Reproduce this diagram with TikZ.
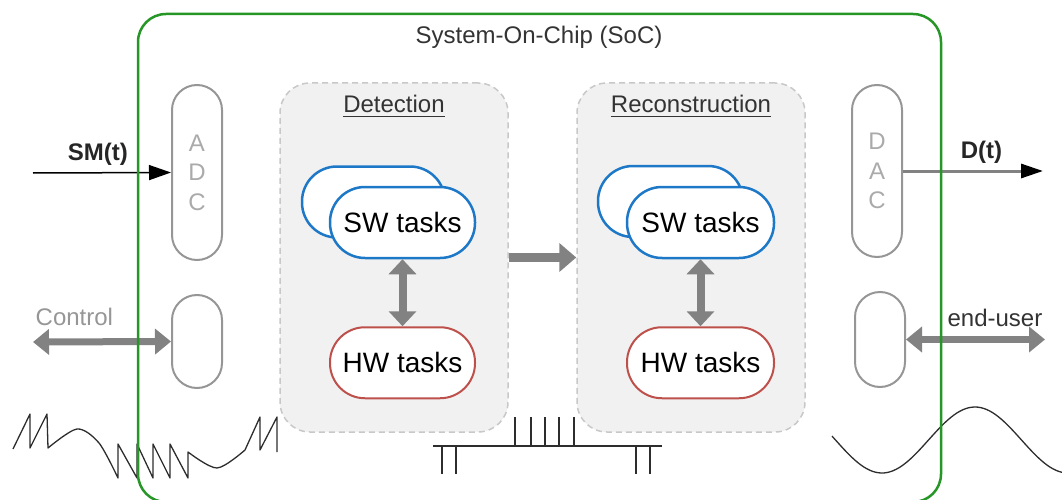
\documentclass[tikz,border=0pt]{standalone}
\usepackage{fontspec}
\setmainfont{Liberation Sans}
\usepackage{xcolor}
\usetikzlibrary{positioning,arrows.meta}

\definecolor{socgreen}{RGB}{38,150,38}
\definecolor{pillgray}{RGB}{150,150,150}
\definecolor{lettergray}{RGB}{170,170,170}
\definecolor{stagefill}{RGB}{241,241,241}
\definecolor{stagedraw}{RGB}{200,200,200}
\definecolor{swblue}{RGB}{30,120,200}
\definecolor{hwred}{RGB}{190,80,75}
\definecolor{arrgray}{RGB}{130,130,130}
\definecolor{textgray}{RGB}{51,51,51}
\definecolor{wavegray}{RGB}{45,45,45}

\newcommand{\lbl}{\fontsize{24}{29.5}\selectfont}
\newcommand{\task}{\fontsize{28}{32}\selectfont}
\newcommand{\headline}[1]{\setbox0\hbox{#1}\rlap{\raisebox{-5pt}{\rule{\wd0}{1.6pt}}}\box0}

\begin{document}
\begin{tikzpicture}[x=1pt, y=-1pt,
  pill/.style={draw=pillgray, line width=2pt, rounded corners=25pt, minimum width=50pt, inner sep=0pt, font=\lbl, text=lettergray, align=center},
  stage/.style={draw=stagedraw, fill=stagefill, dash pattern=on 6pt off 4pt, line width=1.5pt, rounded corners=30pt, minimum width=228pt, minimum height=349pt},
  swtask/.style={draw=swblue, fill=white, line width=2.5pt, rounded corners=35pt, minimum height=71pt, inner sep=0pt, font=\task},
  hwtask/.style={draw=hwred, fill=white, line width=2pt, rounded corners=35pt, minimum width=145pt, minimum height=71pt, inner sep=0pt, font=\task},
  head/.style={font=\lbl, text=textgray},
  flow/.style={draw=arrgray, line width=9pt, -{Triangle[length=17pt,width=28pt]}},
  link/.style={draw=arrgray, line width=8pt, {Triangle[length=15pt,width=27pt]}-{Triangle[length=15pt,width=27pt]}},
  both/.style={draw=arrgray, line width=7pt, {Triangle[length=16pt,width=25pt]}-{Triangle[length=16pt,width=25pt]}},
  wave/.style={draw=wavegray, line width=1.3pt, line join=round}]
\useasboundingbox (0,0) rectangle (1062,500);

% signals
\draw[wave] (13,449) -- (30,414) -- (30,448) -- (47,414) -- (48,448)
  -- plot[smooth] coordinates {(48,448) (77,429) (99,443) (118,478)}
  -- (118,444) -- (137,478) -- (137,444) -- (153,478) -- (153,444) -- (170,478) -- (170,444) -- (188,478) -- (188,452)
  -- plot[smooth] coordinates {(188,452) (217,468) (245,450)}
  -- (260,417) -- (260,450) -- (277,417) -- (277,452);
\draw[wave] (433,446) -- (662,446);
\foreach \x in {442,456,636,650} \draw[wave] (\x,446) -- (\x,474);
\foreach \x in {515,531,545,559,574} \draw[wave] (\x,446) -- (\x,417);
\draw[wave] plot[domain=832:1062, samples=80] (\x, {440+33*cos((\x-882)/186*360)});

\node[head] (title) at (539,37) {System-On-Chip (SoC)};

% converters
\node[pill, minimum height=175pt] (adc) at (197,172.5) {A\\D\\C};
\node[pill, minimum height=93pt] (ctl) at (197,341.5) {};
\node[pill, minimum height=172pt] (dac) at (877,171) {D\\A\\C};
\node[pill, minimum height=95pt] (usr) at (880,339.5) {};

% stages
\node[stage] (det) at (394,257.5) {};
\node[stage] (rec) at (691,257.5) {};
\node[head] (dethead) at (394,106) {\headline{Detection}};
\node[head] (rechead) at (691,106) {\headline{Reconstruction}};

\node[swtask, minimum width=143pt] (dswb) at (373.5,202) {};
\node[swtask, minimum width=145pt] (dsw) at (402.5,222.5) {SW tasks};
\node[hwtask, below=67pt of dsw] (dhw) {HW tasks};
\node[swtask, minimum width=145pt] (rswb) at (670.5,201.5) {};
\node[swtask, minimum width=147pt] (rsw) at (700.5,222.5) {SW tasks};
\node[hwtask, minimum width=147pt, below=67pt of rsw] (rhw) {HW tasks};

\draw[link] (dsw) -- (dhw);
\draw[link] (rsw) -- (rhw);
\draw[flow] (det) -- (rec);

% inputs and outputs
\coordinate (smin) at (33,173);
\coordinate (cin) at (33,342);
\coordinate (dout) at (1043,171);
\coordinate (uout) at (1045,339.5);
\draw[line width=1.5pt, -{Triangle[length=22pt,width=15pt]}] (smin) -- (adc.west)
  node[pos=0.47, above=3pt, font=\lbl\bfseries, text=black!85] {SM(t)};
\draw[both] (cin) -- (ctl.west) node[pos=0.3, above=9pt, font=\lbl, text=pillgray] {Control};
\draw[draw=arrgray, line width=3pt, -{Triangle[length=22pt,width=14pt,color=black]}] (dac.east) -- (dout)
  node[pos=0.56, above=3pt, font=\lbl\bfseries, text=black!85] {D(t)};
\draw[both] (usr.east) -- (uout) node[pos=0.64, above=6pt, font=\lbl, text=textgray] {end-user};

\node[draw=socgreen, line width=2.5pt, rounded corners=28pt, minimum width=803pt, minimum height=488pt] (soc) at (539.5,258) {};
\end{tikzpicture}
\end{document}
